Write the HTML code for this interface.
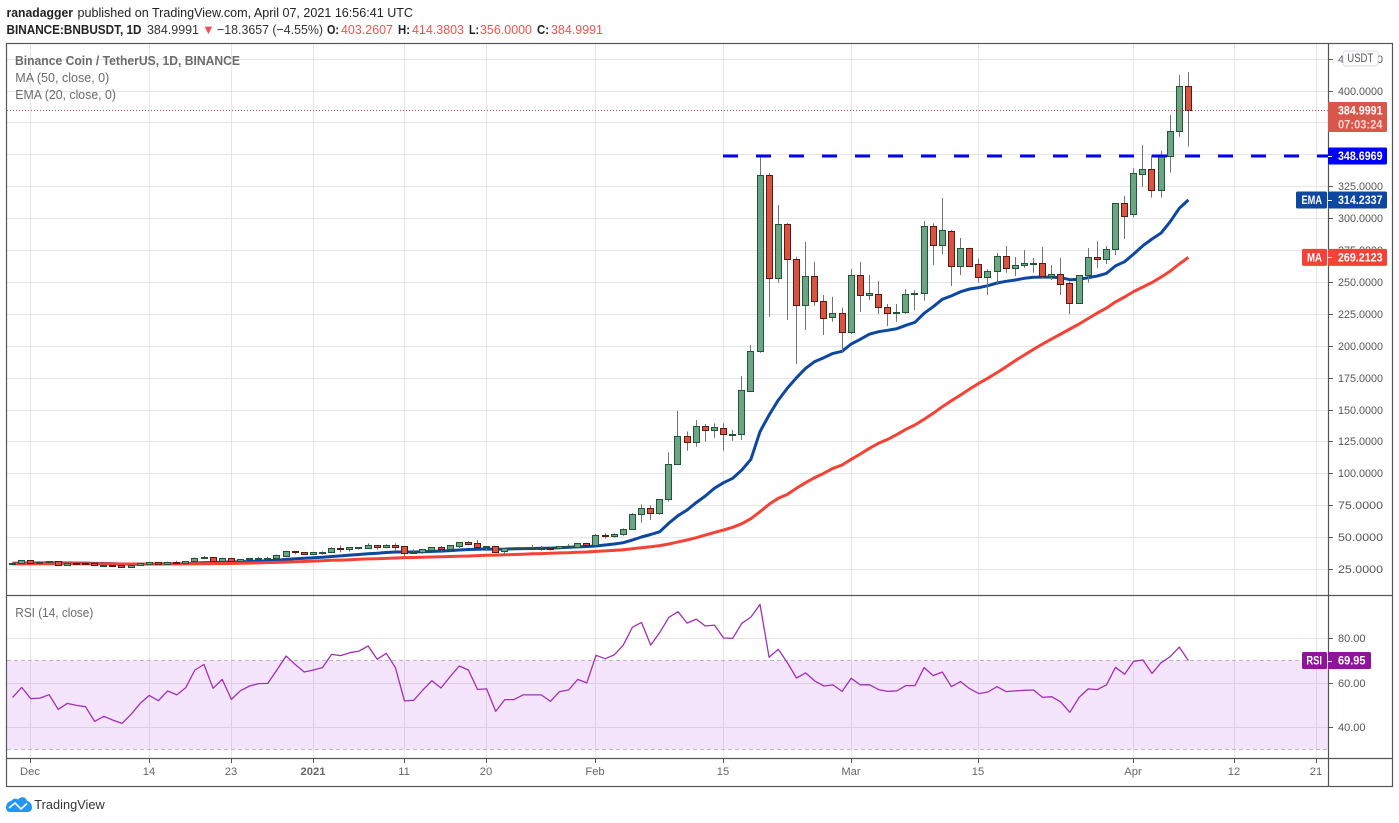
<!DOCTYPE html>
<html lang="en">
<head>
<meta charset="utf-8">
<title>BNBUSDT chart</title>
<style>
html,body{margin:0;padding:0;background:#fff;width:1399px;height:823px;overflow:hidden}
svg{display:block;font-family:"Liberation Sans",Arial,sans-serif}
</style>
</head>
<body>
<svg id="chart" xmlns="http://www.w3.org/2000/svg" width="1399" height="823" viewBox="0 0 1399 823">
  <rect x="0" y="0" width="1399" height="823" fill="#ffffff"/>
  <g id="grid"></g>
  <rect id="rsiBand" fill="rgba(153,21,235,0.11)"/>
  <g id="rsiDash"></g>
  <polyline id="rsiLine" fill="none" stroke="#a22fb6" stroke-width="1.3" stroke-linejoin="round"/>
  <polyline id="emaLine" fill="none" stroke="#0d47a1" stroke-width="3" stroke-linejoin="round"/>
  <polyline id="maLine" fill="none" stroke="#f44336" stroke-width="3" stroke-linejoin="round"/>
  <g id="candles"></g>
  <line id="lastLine" x1="7" x2="1328" stroke="#c0514a" stroke-width="1" stroke-dasharray="1 2"/>
  <line id="resLine" x1="723" x2="1328" stroke="#0000ff" stroke-width="3" stroke-dasharray="15 18"/>

  <g stroke="#555" stroke-width="1.2" fill="none">
    <rect x="6.5" y="43.5" width="1386" height="743"/>
    <line x1="1328.5" x2="1328.5" y1="43.5" y2="786.5"/>
    <line x1="6.5" x2="1392.5" y1="595.5" y2="595.5"/>
    <line x1="6.5" x2="1392.5" y1="758.5" y2="758.5"/>
  </g>

  <g id="priceAxis"></g>
  <g id="rsiAxis"></g>
  <g id="timeAxis"></g>

  <g>
    <rect x="1343" y="51" width="35" height="15" rx="3" fill="#fff" stroke="#d9d9e6"/>
    <text x="1360.3" y="62" font-size="11.5" fill="#555" text-anchor="middle" textLength="26" lengthAdjust="spacingAndGlyphs">USDT</text>
  </g>

  <g id="tags"></g>

  <g font-size="13" fill="#333" lengthAdjust="spacingAndGlyphs">
    <text x="6.5" y="17" font-weight="bold" fill="#222" textLength="66.5" lengthAdjust="spacingAndGlyphs">ranadagger</text>
    <text x="77.5" y="17" fill="#222" textLength="335.5" lengthAdjust="spacingAndGlyphs">published on TradingView.com, April 07, 2021 16:56:41 UTC</text>
    <text x="6.5" y="34" font-weight="bold" fill="#222" textLength="135" lengthAdjust="spacingAndGlyphs">BINANCE:BNBUSDT, 1D</text>
    <text x="147" y="34" textLength="52" lengthAdjust="spacingAndGlyphs">384.9991</text>
    <text x="202" y="34" fill="#ef5350">▼</text>
    <text x="217" y="34" textLength="106" lengthAdjust="spacingAndGlyphs">−18.3657 (−4.55%)</text>
    <text x="327" y="34" font-weight="bold" fill="#222" textLength="12" lengthAdjust="spacingAndGlyphs">O:</text>
    <text x="341" y="34" fill="#ef5350" textLength="52" lengthAdjust="spacingAndGlyphs">403.2607</text>
    <text x="398" y="34" font-weight="bold" fill="#222" textLength="12" lengthAdjust="spacingAndGlyphs">H:</text>
    <text x="412" y="34" fill="#ef5350" textLength="52" lengthAdjust="spacingAndGlyphs">414.3803</text>
    <text x="469" y="34" font-weight="bold" fill="#222" textLength="10" lengthAdjust="spacingAndGlyphs">L:</text>
    <text x="480" y="34" fill="#ef5350" textLength="52" lengthAdjust="spacingAndGlyphs">356.0000</text>
    <text x="537" y="34" font-weight="bold" fill="#222" textLength="12" lengthAdjust="spacingAndGlyphs">C:</text>
    <text x="551" y="34" fill="#ef5350" textLength="52" lengthAdjust="spacingAndGlyphs">384.9991</text>
  </g>
  <g font-size="13" fill="#6b6b6b">
    <text x="15" y="65" font-weight="bold" textLength="225" lengthAdjust="spacingAndGlyphs">Binance Coin / TetherUS, 1D, BINANCE</text>
    <text x="15.3" y="82" textLength="94" lengthAdjust="spacingAndGlyphs">MA (50, close, 0)</text>
    <text x="15.3" y="99" textLength="100.7" lengthAdjust="spacingAndGlyphs">EMA (20, close, 0)</text>
    <text x="15.3" y="617" textLength="78" lengthAdjust="spacingAndGlyphs">RSI (14, close)</text>
  </g>
  <g>
    <path d="M6 808 C6 804 8 801.5 11 801 C13 798.5 16 798 18 799.5 C21 796 26 796.5 27 801 C30 801.5 32 804 32 807.5 C32 810.5 30 812 28 812 L10 812 C8 812 6 810.5 6 808 Z" fill="#2196f3"/>
    <polyline points="9,808 15,803 21,809 27,803.5" fill="none" stroke="#ffffff" stroke-width="1.6"/>
    <text x="34.3" y="809" font-size="13" fill="#333" textLength="70.4" lengthAdjust="spacingAndGlyphs">TradingView</text>
  </g>
</svg>
<script>
// Chart data. One entry per daily bar, 29 Nov 2020 to 7 Apr 2021.
const opens = [
29.2,30,31.8,30,30.2,31,28.4,29.7,29.4,29.7,27.9,28.4,28.4,26.8,27.9,29.2,30.5,29.2,30.2,30,
31,33.4,34.1,31.5,33.4,31,32.6,33.1,33.1,33.4,35.5,38.8,38.3,37,37.8,38,41.5,41,41.5,41.7,
43.5,42,43.5,42.8,37.8,38,40.1,42,41,43.3,45.9,45.1,42.2,42.8,38.8,41,41,41.2,41.2,41.7,
41.2,42.5,42.5,45.1,44.1,51.6,51.1,52.1,56,67.8,72.5,68.6,79.6,107,128.9,124.2,136.8,133.6,135.7,129.7,
130.8,164.5,195.6,333.5,252.9,295.4,267.7,231.7,254.6,235,222.3,225.4,210.5,255.2,239.5,240.3,230.1,225.4,226.2,240.3,
241,293.6,278.7,289.6,262.8,276.3,263.8,254.1,258.8,270.1,261.1,263,264.3,264.6,254.9,256,248.9,233.7,255.2,269.3,
268.2,275.6,311.6,303,334.8,338.2,321.8,348.9,368,403.2607];
const highs = [
30.3,32.2,32,31.3,31.1,31.1,29.9,29.8,29.6,29.9,28.8,28.8,28.6,28.2,29.9,30.7,30.6,30.8,31.5,31.2,
34,35.1,34.3,33.8,33.8,32.9,33.6,34.6,34.6,36.4,39.2,39.2,38.4,38.5,38.8,42,43.5,42.2,42.2,45.1,
43.6,44.6,45.1,43,40.4,40.7,42.2,43,43.7,46.2,46.7,47.7,43,43,41.4,42,42.2,43.8,43,42,
43,44.6,45.5,45.6,52.4,53,52.9,56.8,68.9,75.6,74.9,79.6,116.4,148.8,132.8,141.7,138.6,139.1,139.1,133.9,
176.2,200.6,348.7,335.3,310.3,296.2,269.7,281.3,265.8,239.7,238.4,229.8,260.1,265.6,255.4,250.7,232.7,232.7,244.2,243.6,
297.7,295.9,315.8,290.7,284.4,276.8,268,260.1,272.6,278.1,269.5,275,268.7,277.4,263.2,268.7,250.2,255.2,276.6,282,
278.1,311.6,317.3,339,357.3,349.5,352.6,380.8,412.2,414.3803];
const lows = [
29,29.8,29.8,29.8,30,28.2,28.2,28.7,29,27.2,27.4,27.2,26.7,26.7,27.8,29,29,28.8,29.5,29.9,
30.9,32.5,31.3,31,30.8,30.8,32.4,32,32.3,33.2,35.3,36.6,36.2,36.9,36.2,37.8,38,38.6,40.4,41,
40.2,41.2,39.1,34.7,37,37,39.4,38.6,39.4,41.5,44.1,42,39.9,37.5,36,39.4,40.5,39.9,39.4,39.6,
40.4,41.5,42.3,43.3,42.5,48.7,49.5,51.1,55.8,61.3,63.4,67.5,77.7,107,117.7,120.8,124.7,127.9,117.7,125.3,
126.1,164,194.5,222.7,249.4,220.2,185.7,212.3,231.4,208.4,218.8,195.3,209.2,226.4,235.8,224.8,215.4,218.8,224.8,228,
235.3,263.2,271.9,246.8,255.4,262.8,249.4,239.7,247.6,257.2,254.6,261.1,257.2,253,251.5,239.7,224.8,233.7,249.4,260.9,
264,271.1,283.6,300.6,324.6,316,316,335.6,363.8,356];
const closes = [
30,31.8,30,30.5,31,28.4,29.7,28.9,29.2,27.9,28.4,27.6,26.8,28.1,29.7,30.5,29.2,30.5,29.7,31,
33.6,34.4,31.5,33.4,31,32.6,33.4,33.6,33.6,36,38.8,38,37,38.3,38.3,41.2,41,42,42,43.5,
42.5,43.5,42.5,37.8,38,40.4,42,41,43.5,45.9,44.6,42.5,42.8,38.6,41.2,41.5,41.7,41.5,41.5,41,
42.8,42.8,45.1,44.1,51.4,51.3,52.1,56,67.8,72.5,68.6,79.6,107,128.9,124.2,136.8,133.6,136,130.5,130.5,
165.3,195.9,333.5,252.8,295.4,267.7,231.7,254.4,235,221.7,225.4,210.5,255.2,239.5,241,230.1,225.4,226.2,240.3,241,
293.6,278.7,290.4,262.8,276.3,262.8,254.1,258.3,270.1,261.1,263,264.6,264.8,254.9,256,248.6,233.7,255.2,269.3,268.2,
275.6,311.6,301.9,335.1,338.2,321.8,348.9,368,403.3,384.9991];
const ema20 = [
29.5,29.6,29.7,29.7,29.8,29.7,29.7,29.6,29.6,29.4,29.3,29.1,28.9,28.8,28.8,28.9,29,29.1,29.1,29.2,
29.6,30,30.1,30.4,30.5,30.7,30.9,31.2,31.4,31.9,32.5,33,33.4,33.8,34.2,34.8,35.3,35.9,36.4,37,
37.4,37.9,38.3,38.3,38.3,38.5,38.8,39,39.4,39.9,40.3,40.5,40.7,40.5,40.6,40.9,41,41.1,41.2,41.4,
41.6,42,42.3,42.6,43,43.8,44.6,45.6,47.7,50.1,52,54.2,61,66.8,71.2,77,82.2,88.3,92.6,96.1,
102.6,111,132.6,145.7,157.4,166.8,174.9,182.3,187.5,190.6,194,195.6,201.3,205,209,211,212.1,213.3,216,218.3,
225.4,230.6,236.4,239,242.3,244.4,245.5,247,249.1,250.5,251.5,252.8,253.6,253.8,253.8,253.3,251.7,252,253.3,254.6,
256.7,262.5,265.8,271.9,278.4,283.6,288.3,297.2,307.7,314.2337];
const ma50 = [
29,29,29,29.1,29.1,29.1,29.1,29.1,29.1,29,29,29,28.9,28.9,28.9,28.9,28.9,29,29,29,
29.1,29.1,29.2,29.2,29.3,29.5,29.6,29.8,30,30.2,30.4,30.7,30.9,31.2,31.5,31.8,32,32.3,32.6,32.9,
33.1,33.3,33.6,33.9,34,34.2,34.4,34.6,34.8,35,35.2,35.5,35.7,35.9,36.1,36.4,36.6,36.9,37.1,37.3,
37.6,37.8,38.1,38.3,38.8,39.2,39.6,40.1,40.9,41.7,42.5,43.3,44.6,46.2,47.7,49.5,51.6,53.7,55.6,57.7,
60.5,64.4,69.9,75.7,80.4,83.5,88.3,92.6,96.6,100,103.9,106.5,111,115.1,119.6,123.5,126.6,130.3,134.5,137.9,
142.3,147,152.2,156.9,161.4,166.1,170.5,174.5,178.9,183.5,188.3,192.7,197.2,201.3,205.3,209.2,213.1,217,221.3,225.6,
229.5,234.3,238.2,242.5,246,249.5,253.8,258.5,264,269.2123];
const rsiValues = [
53.4,57.9,52.8,53.1,54.6,48,50.7,49.8,49.2,42.6,44.9,43.2,41.7,45.8,50.7,54.3,51.9,56.3,54.5,57.8,
65.7,68.2,57.5,61.5,52.5,56.4,58.5,59.6,59.7,65.7,72,68.2,64.8,65.7,66.8,72.7,72.2,73.5,74.2,76.5,
70.5,73.2,66.8,51.8,52.1,56.7,60.9,57.6,62.7,67.5,65.7,57,57.2,47.1,52.4,52.4,54.5,54.5,54.5,51.6,
56,56.7,61.5,59.9,72.3,70.8,72.5,76.9,84.9,87.1,76.9,82.6,89.4,91.9,86.8,88.6,85.5,85.9,80.1,79.9,
86.7,89.5,95.2,71.4,75,69,62.1,64.4,60.8,58.5,59,56.1,62,59,59.1,56.9,56.1,56.3,58.7,58.7,
66.8,63.2,64.8,58.2,60.5,57.3,55.1,55.8,58.2,56,56.3,56.6,56.7,53.4,53.7,51.3,46.7,53.4,57.2,56.9,
59,66.9,63.8,69.6,70.2,64.2,69,71.7,76,69.95];
const priceTicks = [25,50,75,100,125,150,175,200,225,250,275,300,325,350,375,400,425];
const rsiTicks = [40,60,80];
const rsiBandLimits = [30,70];
const timeTickLabels = ["Dec","14","23","2021","11","20","Feb","15","Mar","15","Apr","12","21"];
const timeTickBars = [2,15,24,33,43,52,64,78,92,106,123,134,143];
const resistanceLevel = 348.6969;
const countdownText = "07:03:24";

// Axis functions
function xBar(i){ return 12.6 + 9.115 * i; }
function yPrice(p){ return 569 - (p - 25) * 1.276; }
function yRsi(r){ return 682.7 - (r - 60) * 2.225; }
function crisp(v){ return Math.round(v) + 0.5; }
function crispX(v){ return Math.floor(v) + 0.5; }

const NS = "http://www.w3.org/2000/svg";
function make(tag, attrs, parent, text){
  const el = document.createElementNS(NS, tag);
  for (const k in attrs) el.setAttribute(k, attrs[k]);
  if (text !== undefined) el.textContent = text;
  parent.appendChild(el);
  return el;
}
const grid = document.getElementById("grid");
const candlesG = document.getElementById("candles");
const priceAxis = document.getElementById("priceAxis");
const rsiAxis = document.getElementById("rsiAxis");
const timeAxis = document.getElementById("timeAxis");
const tagsG = document.getElementById("tags");
const GRID = "#e6e6e6";

// Grid and price axis
priceTicks.forEach(function(p){
  const y = crisp(yPrice(p));
  const gl = make("line", {x1:7, x2:1328, y1:y, y2:y, stroke:GRID, "stroke-width":1}, grid);
  
  
  const tk = make("line", {x1:1329, x2:1333, y1:y, y2:y, stroke:"#555", "stroke-width":1}, priceAxis);
  
  
  const lb = make("text", {x:1338, y:y + 3.5, "font-size":11.2, fill:"#555", textLength:45, lengthAdjust:"spacingAndGlyphs"}, priceAxis, p.toFixed(4));
  
  
});
rsiTicks.forEach(function(r){
  const y = crisp(yRsi(r));
  const gl = make("line", {x1:7, x2:1328, y1:y, y2:y, stroke:GRID, "stroke-width":1}, grid);
  
  
  const tk = make("line", {x1:1329, x2:1333, y1:y, y2:y, stroke:"#555", "stroke-width":1}, rsiAxis);
  
  
  const lb = make("text", {x:1338, y:y + 3.5, "font-size":11.2, fill:"#555", textLength:27.5, lengthAdjust:"spacingAndGlyphs"}, rsiAxis, r.toFixed(2));
  
  
});
timeTickLabels.forEach(function(label, k){
  const x = crispX(xBar(timeTickBars[k]));
  const isYear = label === "2021";
  const g1 = make("line", {x1:x, x2:x, y1:44, y2:595, stroke:GRID, "stroke-width":1}, grid);
  
  
  const g2 = make("line", {x1:x, x2:x, y1:596, y2:758, stroke:GRID, "stroke-width":1}, grid);
  
  
  const tk = make("line", {x1:x, x2:x, y1:759, y2:763, stroke:"#555", "stroke-width":1}, timeAxis);
  
  
  const lb = make("text", {x:x - 0.5, y:775, "font-size":11.2, fill:"#666", "text-anchor":"middle", "font-weight":isYear ? "bold" : "normal"}, timeAxis, label);
  
  
});

// RSI band
const band = document.getElementById("rsiBand");
const bandTop = yRsi(Math.max.apply(null, rsiBandLimits));
const bandBottom = yRsi(Math.min.apply(null, rsiBandLimits));
band.setAttribute("x", 7);
band.setAttribute("width", 1321);
band.setAttribute("y", bandTop);
band.setAttribute("height", bandBottom - bandTop);
rsiBandLimits.forEach(function(r){
  const y = crisp(yRsi(r));
  const l = make("line", {x1:7, x2:1328, y1:y, y2:y, stroke:"#c2b4c8", "stroke-width":1, "stroke-dasharray":"4 3"}, document.getElementById("rsiDash"));
  
  
});

// Lines
function linePoints(values, yFn){
  return values.map(function(v, i){ return xBar(i).toFixed(1) + "," + yFn(v).toFixed(1); }).join(" ");
}
document.getElementById("rsiLine").setAttribute("points", linePoints(rsiValues, yRsi));
document.getElementById("maLine").setAttribute("points", linePoints(ma50, yPrice));
document.getElementById("emaLine").setAttribute("points", linePoints(ema20, yPrice));

// Candles
opens.forEach(function(o, i){
  const c = closes[i];
  const up = c >= o;
  const cx = crispX(xBar(i));
  const wick = make("line", {x1:cx, x2:cx, y1:yPrice(highs[i]), y2:yPrice(lows[i]), stroke:"#737375", "stroke-width":1}, candlesG);
  
  
  const top = crisp(yPrice(Math.max(o, c)));
  const bot = crisp(yPrice(Math.min(o, c)));
  const body = make("rect", {x:cx - 3, y:top, width:6, height:Math.max(bot - top, 1),
    fill: up ? "#6ba583" : "#d75442", stroke: up ? "#225437" : "#5b1a13", "stroke-width":1}, candlesG);
  
  
});

// Reference lines
const lastClose = closes[closes.length - 1];
const lastY = crisp(yPrice(lastClose));
const lastLine = document.getElementById("lastLine");
lastLine.setAttribute("y1", lastY);
lastLine.setAttribute("y2", lastY);
const resY = yPrice(resistanceLevel);
const resLine = document.getElementById("resLine");
resLine.setAttribute("y1", resY);
resLine.setAttribute("y2", resY);

// Right-side value tags
function valueTag(name, y, text, color, width, textWidth){
  const r = make("rect", {x:1328, y:y - 8.5, width:width, height:17, fill:color, rx:1.5}, tagsG);
  
  
  const t = make("text", {x:1338, y:y + 4, "font-size":11.5, "font-weight":"bold", fill:"#fff", textLength:textWidth, lengthAdjust:"spacingAndGlyphs"}, tagsG, text);
  
  
  const tk = make("line", {x1:1328, x2:1332, y1:Math.round(y) + 0.5, y2:Math.round(y) + 0.5, stroke:"#fff", "stroke-width":1}, tagsG);
  
  
}
function nameTag(name, y, text, color, x0, textWidth){
  const r = make("rect", {x:x0, y:y - 8.5, width:1327 - x0, height:17, fill:color, rx:1.5}, tagsG);
  
  
  const t = make("text", {x:1322 - textWidth, y:y + 4, "font-size":11.5, "font-weight":"bold", fill:"#fff", textLength:textWidth, lengthAdjust:"spacingAndGlyphs"}, tagsG, text);
  
  
}
// Last price tag (value + countdown)
const lastRect = make("rect", {x:1328, y:lastY - 8.5, width:59, height:30, fill:"#d9574a", rx:1.5}, tagsG);


const lastText = make("text", {x:1338, y:lastY + 4, "font-size":11.5, "font-weight":"bold", fill:"#fff", textLength:44.5, lengthAdjust:"spacingAndGlyphs"}, tagsG, lastClose.toFixed(4));


const cdText = make("text", {x:1338, y:lastY + 18, "font-size":11.5, "font-weight":"bold", fill:"#f7d6d1", textLength:44.5, lengthAdjust:"spacingAndGlyphs"}, tagsG, countdownText);



valueTag("resistance", resY, resistanceLevel.toFixed(4), "#0000ff", 59, 44.5);
const emaLast = ema20[ema20.length - 1];
nameTag("ema", yPrice(emaLast), "EMA", "#0d47a1", 1296, 20.5);
valueTag("ema", yPrice(emaLast), emaLast.toFixed(4), "#0d47a1", 59, 44.5);
const maLast = ma50[ma50.length - 1];
nameTag("ma", yPrice(maLast), "MA", "#f44336", 1302, 15);
valueTag("ma", yPrice(maLast), maLast.toFixed(4), "#f44336", 59, 44.5);
const rsiLast = rsiValues[rsiValues.length - 1];
nameTag("rsi", yRsi(rsiLast), "RSI", "#8e1599", 1302, 15.6);
valueTag("rsi", yRsi(rsiLast), rsiLast.toFixed(2), "#8e1599", 43, 27.5);
</script>
</body>
</html>
